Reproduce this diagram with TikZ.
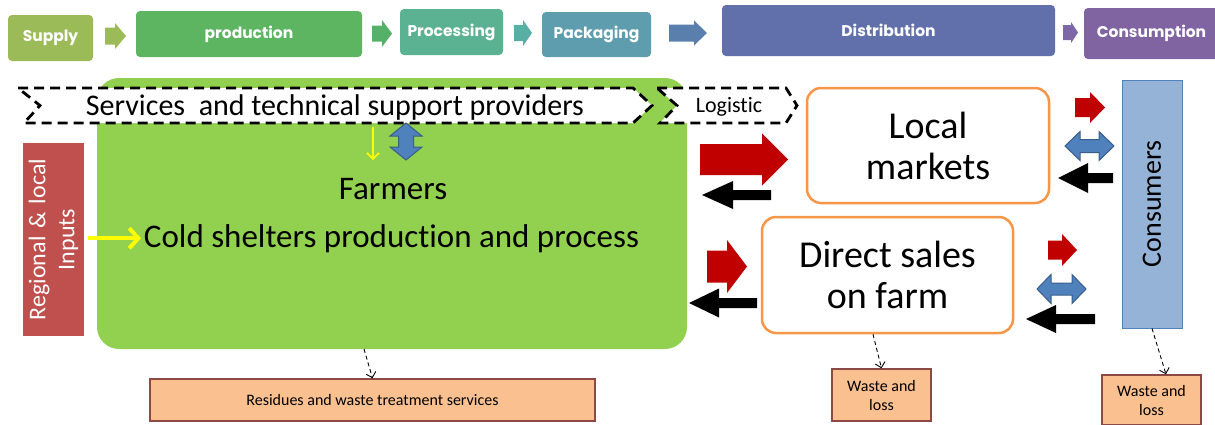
\documentclass[tikz,border=0pt]{standalone}
\usepackage{fontspec}
\setmainfont{Carlito}[Ligatures=NoCommon]
\newfontfamily\topfont{Poppins}
\usetikzlibrary{arrows.meta}
\definecolor{cSupply}{HTML}{9BBB59}
\definecolor{cProd}{HTML}{5DB562}
\definecolor{cProdA}{HTML}{55B06A}
\definecolor{cProc}{HTML}{5BB292}
\definecolor{cProcA}{HTML}{58AFA3}
\definecolor{cPack}{HTML}{5D9DAE}
\definecolor{cPackA}{HTML}{5B7FAC}
\definecolor{cDist}{HTML}{6170AA}
\definecolor{cDistA}{HTML}{7D67A6}
\definecolor{cCons}{HTML}{8064A2}
\definecolor{cGreen}{HTML}{92D050}
\definecolor{cReg}{HTML}{C0504D}
\definecolor{cOrange}{HTML}{F79646}
\definecolor{cConsF}{HTML}{95B3D7}
\definecolor{cBlue}{HTML}{4F81BD}
\definecolor{cBlueD}{HTML}{385D8A}
\definecolor{cWaste}{HTML}{FAC090}
\definecolor{cWasteD}{HTML}{8C4A47}
\definecolor{cDarkRed}{HTML}{C00000}
\definecolor{cYellow}{HTML}{FFFF00}
\newcommand\blockarr[7]{\fill[#1] (#2,{#5-#6}) -- (#4,{#5-#6}) -- (#4,{#5-#7}) -- (#3,#5) -- (#4,{#5+#7}) -- (#4,{#5+#6}) -- (#2,{#5+#6}) -- cycle;}
\newcommand\dblarrh[6]{\filldraw[dblarr] (#1,#3) -- ({#1+#6},{#3-#5}) -- ({#1+#6},{#3-#4}) -- ({#2-#6},{#3-#4}) -- ({#2-#6},{#3-#5}) -- (#2,#3) -- ({#2-#6},{#3+#5}) -- ({#2-#6},{#3+#4}) -- ({#1+#6},{#3+#4}) -- ({#1+#6},{#3+#5}) -- cycle;}
\newcommand\dblarrv[6]{\filldraw[dblarr] (#1,#2) -- ({#1+#5},{#2+#6}) -- ({#1+#4},{#2+#6}) -- ({#1+#4},{#3-#6}) -- ({#1+#5},{#3-#6}) -- (#1,#3) -- ({#1-#5},{#3-#6}) -- ({#1-#4},{#3-#6}) -- ({#1-#4},{#2+#6}) -- ({#1-#5},{#2+#6}) -- cycle;}
\begin{document}
\begin{tikzpicture}[x=1pt,y=-1pt,
  topbox/.style={rounded corners=4pt, inner sep=0pt, outer sep=0pt, text=white, font=\topfont\bfseries\fontsize{15.5}{17}\selectfont},
  mbox/.style={draw=cOrange, line width=2.5pt, fill=white, rounded corners=14pt, inner sep=0pt, align=center, font=\fontsize{38}{41}\selectfont},
  wbox/.style={draw=cWasteD, line width=1.5pt, fill=cWaste, inner sep=0pt, align=center, font=\fontsize{16}{19}\selectfont},
  chev/.style={draw=black, fill=white, line width=2.8pt, dash pattern=on 10pt off 6pt},
  dasharr/.style={draw=black, line width=0.9pt, dash pattern=on 4pt off 3pt, -{Straight Barb[length=5pt,width=10pt]}},
  dblarr/.style={fill=cBlue, draw=cBlueD, line width=1pt},
  txt/.style={inner sep=0pt, outer sep=0pt}
]
\useasboundingbox (0,0) rectangle (1215,424);

% top row
\node[topbox, fill=cSupply, minimum width=85pt, minimum height=46pt] (supply) at (50.5,38) {Supply};
\node[topbox, fill=cProd, minimum width=226pt, minimum height=46pt] (prod) at (249,34) {production};
\node[topbox, fill=cProc, minimum width=103pt, minimum height=46pt] (proc) at (451.5,32) {Processing};
\node[topbox, fill=cPack, minimum width=109pt, minimum height=45pt] (pack) at (596.5,34.5) {Packaging};
\node[topbox, fill=cDist, minimum width=333pt, minimum height=51pt] (dist) at (888.5,30.5) {Distribution};
\node[topbox, fill=cCons, minimum width=135pt, minimum height=51pt] (cons) at (1151.5,33.5) {Consumption};
\blockarr{cSupply}{105}{126}{115}{36}{8.5}{13}
\blockarr{cProdA}{372}{392}{382}{33.5}{8}{13.5}
\blockarr{cProcA}{514}{532}{523}{33}{8}{13}
\blockarr{cPackA}{669}{707}{694}{33}{8.5}{12.5}
\blockarr{cDistA}{1063}{1078}{1071}{32.5}{7.5}{10.5}

% farm block
\node[fill=cGreen, rounded corners=22pt, minimum width=590pt, minimum height=271pt, inner sep=0pt, outer sep=0pt] (farm) at (392,213.5) {};

% chevrons
\path[chev] (18,88) -- (633,88) -- (652,105.5) -- (633,123) -- (24,123) -- (40,105.5) -- cycle;
\path[chev] (657,88) -- (786,88) -- (797,105.5) -- (786,123) -- (660,123) -- (677,105.5) -- cycle;
\node[txt, anchor=base, font=\fontsize{30}{32}\selectfont] (svc) at (335,115) {Services\ \ and technical support providers};
\node[txt, anchor=base, font=\fontsize{22}{24}\selectfont] (logi) at (729,112.5) {Logistic};

% support arrows
\dblarrv{406}{123}{160}{7.5}{16}{13}
\coordinate (ytop) at (373,127);
\coordinate (ybot) at (373,160);
\draw[draw=cYellow, line width=1.6pt, -{Straight Barb[length=6pt,width=12pt]}] (ytop) -- (ybot);

% farmers text
\node[txt, anchor=base, font=\fontsize{33}{35}\selectfont] (farmers) at (393,199) {Farmers};
\node[txt, anchor=base, font=\fontsize{33}{35}\selectfont] (cold) at (391.5,247) {Cold shelters production and process};

% regional inputs
\node[fill=cReg, minimum width=61pt, minimum height=193pt, inner sep=0pt, outer sep=0pt,
  label={[rotate=90, text=white, align=center, font=\fontsize{24}{29}\selectfont]center:Regional\hspace{8pt}\&\hspace{8pt}local\\Inputs}] (reg) at (53.5,239.5) {};
\draw[draw=cYellow, line width=4pt, -{Straight Barb[length=9pt,width=20pt]}] (reg.east |- cold.west) ++(4,0) -- ([xshift=-3pt]cold.west);

% markets
\node[mbox, minimum width=242pt, minimum height=115pt] (local) at (928,145.5) {Local\\markets};
\node[mbox, minimum width=251pt, minimum height=116pt] (direct) at (887.5,275) {Direct sales\\on farm};
\node[fill=cConsF, draw=cBlue, line width=1pt, minimum width=60pt, minimum height=248pt, inner sep=0pt,
  label={[rotate=90, font=\fontsize{28}{30}\selectfont]center:Consumers}] (consumers) at (1152,204) {};

% flow arrows
\blockarr{cDarkRed}{700}{788}{762}{159.5}{15.5}{26}
\blockarr{black}{771}{702}{733}{195}{5}{14}
\blockarr{cDarkRed}{1075}{1105}{1090}{107.5}{9.5}{15.5}
\dblarrh{1065}{1114}{146}{6.5}{14.5}{15}
\blockarr{black}{1113}{1058}{1088}{178}{5}{15}
\blockarr{cDarkRed}{707}{747}{727}{266.5}{16}{26.5}
\blockarr{black}{757}{689}{719}{303}{5}{14.5}
\blockarr{cDarkRed}{1048}{1077}{1062}{250}{9.5}{16}
\dblarrh{1037}{1086}{289}{6}{14.5}{14}
\blockarr{black}{1095}{1026}{1056}{319}{5}{14}

% waste
\node[wbox, minimum width=445pt, minimum height=42pt] (resid) at (372.5,400) {Residues and waste treatment services};
\node[wbox, minimum width=99pt, minimum height=52pt] (waste1) at (881.5,395) {Waste and\\loss};
\node[wbox, minimum width=99pt, minimum height=50pt] (waste2) at (1151.5,400) {Waste and\\loss};
\draw[dasharr] ([xshift=-28pt]farm.south) -- (resid.north);
\draw[dasharr] ([xshift=-14.5pt]direct.south) -- (waste1.north);
\draw[dasharr] (consumers.south) -- ([xshift=14.5pt]waste2.north);
\end{tikzpicture}
\end{document}
